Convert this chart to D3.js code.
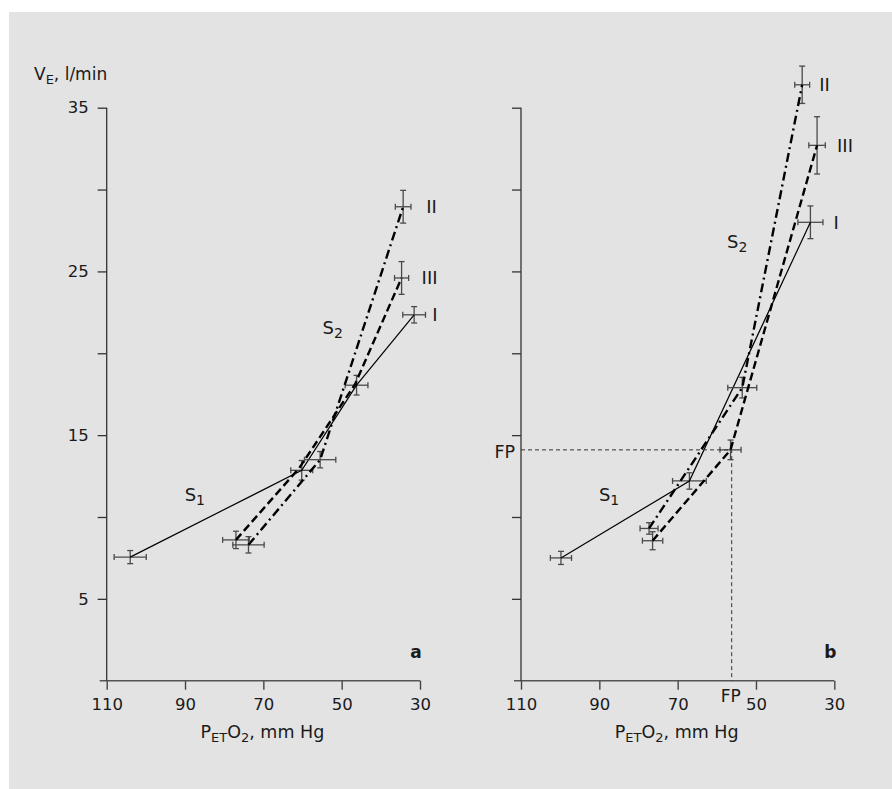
<!DOCTYPE html>
<html><head><meta charset="utf-8">
<script src="https://cdn.jsdelivr.net/npm/d3@7"></script>
<style>
body{margin:0;background:#fff;}
text{font-family:"DejaVu Sans",sans-serif;fill:#1a1a1a;}
</style></head>
<body>
<svg id="chart" width="892" height="789"></svg>
<script>
// ---- data ----
const xTicks = [110, 90, 70, 50, 30];
const yTicks = [5, 10, 15, 20, 25, 30, 35];
const yLabels = [35, 25, 15, 5];
const seriesNames = ["I", "II", "III"];

// panel a
const aI_x = [104, 60.2, 46.2, 31.5];
const aI_y = [7.55, 12.85, 18.05, 22.35];
const aI_xe = [4.1, 2.8, 2.9, 2.9];
const aI_ye = [0.4, 0.6, 0.6, 0.5];
const aII_x = [73.8, 55.5, 34.3];
const aII_y = [8.3, 13.5, 28.95];
const aII_xe = [4.0, 4.0, 2.0];
const aII_ye = [0.5, 0.5, 1.0];
const aIII_x = [77.0, 60.8, 46.6, 34.7];
const aIII_y = [8.6, 13.0, 18.1, 24.6];
const aIII_xe = [3.4, 0, 0, 1.8];
const aIII_ye = [0.53, 0, 0, 1.0];

// panel b
const bI_x = [99.8, 67, 36.1];
const bI_y = [7.5, 12.2, 28.0];
const bI_xe = [2.7, 4.3, 3.2];
const bI_ye = [0.4, 0.5, 1.0];
const bII_x = [77.3, 53.5, 38.2];
const bII_y = [9.3, 17.9, 36.4];
const bII_xe = [2.3, 3.7, 1.9];
const bII_ye = [0.35, 0.63, 1.14];
const bIII_x = [76.4, 56.5, 34.4];
const bIII_y = [8.55, 14.1, 32.7];
const bIII_xe = [2.6, 2.7, 2.1];
const bIII_ye = [0.55, 0.6, 1.75];
const fpX = 56.2, fpY = 14.1;

// ---- drawing ----
const FONT = "DejaVu Sans, sans-serif";
const svg = d3.select("#chart");
svg.append("rect").attr("x", 9).attr("y", 12).attr("width", 892 - 9).attr("height", 789 - 12).attr("fill", "#e3e3e3");

const y = d3.scaleLinear().domain([0, 35]).range([680.7, 107.7]);
const styles = {
  I: {w: 1.2, dash: null},
  II: {w: 2.4, dash: "9,4,2,4"},
  III: {w: 2.4, dash: "8,4"}
};

function addSub(t, parts, subSize) {
  parts.forEach(p => {
    const ts = t.append("tspan").text(p[0]);
    if (p[1]) ts.attr("font-size", subSize || 13).attr("dy", 4);
    else if (p[2]) ts.attr("dy", -4);
  });
}

function panel(x0, x1, showYLabels, series, letter, labelOffsets, s1, s2) {
  const x = d3.scaleLinear().domain([110, 30]).range([x0, x1]);
  const g = svg.append("g");

  // x axis
  const xa = g.append("g").attr("transform", `translate(0,${y(0)})`)
    .call(d3.axisBottom(x).tickValues(xTicks).tickSize(9).tickPadding(9).tickSizeOuter(0));
  xa.select(".domain").remove();
  xa.selectAll("line").attr("stroke", "#444").attr("stroke-width", 1.4);
  xa.selectAll("text").attr("font-size", 16.5).attr("fill", "#1a1a1a").attr("font-family", FONT);
  g.append("line").attr("x1", x(110) - 7).attr("x2", x(30)).attr("y1", y(0)).attr("y2", y(0))
    .attr("stroke", "#555").attr("stroke-width", 1.6);

  // y axis
  const ya = g.append("g").attr("transform", `translate(${x(110)},0)`)
    .call(d3.axisLeft(y).tickValues(yTicks).tickSize(9).tickPadding(9).tickSizeOuter(0)
      .tickFormat(d => showYLabels && yLabels.includes(d) ? d : ""));
  ya.select(".domain").remove();
  ya.selectAll("line").attr("stroke", "#333").attr("stroke-width", 1.3);
  ya.selectAll("text").attr("font-size", 16.5).attr("fill", "#1a1a1a").attr("font-family", FONT);
  g.append("line").attr("x1", x(110)).attr("x2", x(110)).attr("y1", y(35)).attr("y2", y(0))
    .attr("stroke", "#333").attr("stroke-width", 1.3);

  // x title
  const xt = g.append("text").attr("x", (x(110) + x(30)) / 2 - 1).attr("y", 738).attr("text-anchor", "middle").attr("font-size", 17.5);
  addSub(xt, [["P"], ["ET", 1], ["O", 0, 1], ["2", 1], [", mm Hg", 0, 1]]);

  // letter
  g.append("text").attr("x", x(30) - 4).attr("y", 658).attr("text-anchor", "middle")
    .attr("font-size", 17).attr("font-weight", "bold").text(letter);

  const line = d3.line().x(d => x(d.x)).y(d => y(d.y));
  series.forEach(s => {
    const pts = s.xs.map((v, i) => ({x: v, y: s.ys[i], xe: s.xe[i], ye: s.ye[i]}));
    // error bars
    const eb = g.append("g").attr("stroke", "#4a4a4a").attr("stroke-width", 1.3);
    pts.filter(p => p.xe > 0).forEach(p => {
      const cx = x(p.x), cy = y(p.y);
      const xl = x(p.x + p.xe), xr = x(p.x - p.xe);
      const yt = y(p.y + p.ye), yb = y(p.y - p.ye);
      eb.append("line").attr("x1", xl).attr("x2", xr).attr("y1", cy).attr("y2", cy);
      eb.append("line").attr("x1", xl).attr("x2", xl).attr("y1", cy - 3).attr("y2", cy + 3);
      eb.append("line").attr("x1", xr).attr("x2", xr).attr("y1", cy - 3).attr("y2", cy + 3);
      eb.append("line").attr("x1", cx).attr("x2", cx).attr("y1", yt).attr("y2", yb);
      eb.append("line").attr("x1", cx - 3).attr("x2", cx + 3).attr("y1", yt).attr("y2", yt);
      eb.append("line").attr("x1", cx - 3).attr("x2", cx + 3).attr("y1", yb).attr("y2", yb);
    });
    const st = styles[s.name];
    g.append("path").datum(pts).attr("d", line).attr("fill", "none").attr("stroke", "#000")
      .attr("stroke-width", st.w).attr("stroke-dasharray", st.dash);
    const last = pts[pts.length - 1];
    g.append("text").attr("x", x(last.x) + labelOffsets[s.name]).attr("y", y(last.y)).attr("dy", "0.36em")
      .attr("font-size", 18).text(s.name);
  });

  // S labels
  const t1 = g.append("text").attr("x", x(s1[0])).attr("y", y(s1[1])).attr("text-anchor", "middle").attr("font-size", 18);
  addSub(t1, [["S"], ["1", 1]], 14);
  const t2 = g.append("text").attr("x", x(s2[0])).attr("y", y(s2[1])).attr("text-anchor", "middle").attr("font-size", 18);
  addSub(t2, [["S"], ["2", 1]], 14);
  return x;
}

// y title
const yt = svg.append("text").attr("x", 34).attr("y", 80).attr("font-size", 17);
addSub(yt, [["V"], ["E", 1], [", l/min", 0, 1]]);

panel(106.7, 420, true, [
  {name: "I", xs: aI_x, ys: aI_y, xe: aI_xe, ye: aI_ye},
  {name: "II", xs: aII_x, ys: aII_y, xe: aII_xe, ye: aII_ye},
  {name: "III", xs: aIII_x, ys: aIII_y, xe: aIII_xe, ye: aIII_ye}
], "a", {I: 18, II: 23, III: 20}, [87.5, 11.0], [52.3, 21.2]);

const xb = panel(521, 834.3, false, [
  {name: "I", xs: bI_x, ys: bI_y, xe: bI_xe, ye: bI_ye},
  {name: "II", xs: bII_x, ys: bII_y, xe: bII_xe, ye: bII_ye},
  {name: "III", xs: bIII_x, ys: bIII_y, xe: bIII_xe, ye: bIII_ye}
], "b", {I: 23, II: 17, III: 20}, [87.5, 11.0], [54.8, 26.4]);

// FP lines
svg.append("path").attr("d", `M${xb(110)},${y(fpY)}H${xb(fpX)}V${y(0)}`).attr("fill", "none")
  .attr("stroke", "#333").attr("stroke-width", 1).attr("stroke-dasharray", "4,3");
svg.append("text").attr("x", xb(110) - 6).attr("y", y(fpY)).attr("dy", "0.45em").attr("text-anchor", "end").attr("font-size", 17.5).text("FP");
svg.append("text").attr("x", xb(fpX) - 1).attr("y", 702).attr("text-anchor", "middle").attr("font-size", 17).text("FP");
</script>
</body></html>
